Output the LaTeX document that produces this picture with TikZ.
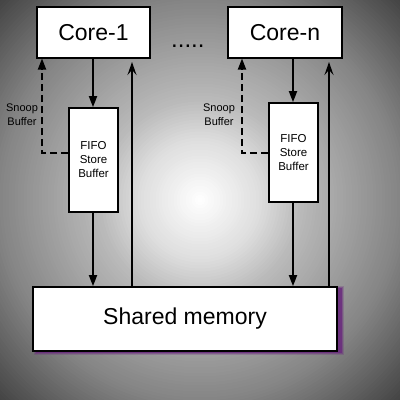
\documentclass[tikz,border=0pt]{standalone}
\usepackage{fontspec}
\setmainfont{Liberation Sans}
\usetikzlibrary{arrows.meta,calc}
\pgfdeclarelayer{bglayer}
\pgfdeclarelayer{shadowlayer}
\pgfsetlayers{bglayer,shadowlayer,main}
\definecolor{shadowpurple}{RGB}{105,40,125}
\tikzset{
  box/.style={draw=black, fill=white, line width=1.7pt, inner sep=0pt},
  corebox/.style={box, minimum width=113pt, minimum height=51pt, font=\fontsize{23}{26}\selectfont},
  fifobox/.style={box, minimum width=49pt, align=center, font=\fontsize{11.5}{14}\selectfont},
  snooplbl/.style={align=center, inner sep=0pt, font=\fontsize{11}{14}\selectfont},
  downarr/.style={line width=1.8pt, -{Triangle[width=8pt,length=11pt]}},
  uparr/.style={line width=1.8pt, -{Stealth[width=9pt,length=13pt,inset=5pt]}},
  snooparr/.style={line width=1.8pt, dash pattern=on 7pt off 4pt, -{Triangle[width=8pt,length=11pt]}}
}
\begin{document}
\begin{tikzpicture}[x=1pt,y=-1pt]
\useasboundingbox (0,0) rectangle (400,400);
% background radial gradient
\begin{pgfonlayer}{bglayer}
\begin{scope}
\clip (0,0) rectangle (400,400);
\fill[black!78] (0,0) rectangle (400,400);
\foreach \r in {292,289,...,0}{
  \pgfmathsetmacro{\s}{\r/100}
  \pgfmathsetmacro{\g}{100*(\s<0.6 ? 1-0.2167*\s : (\s<1 ? 0.87-0.35*(\s-0.6) : (\s<2 ? 0.73-0.21*(\s-1) : 0.52-0.306*(\s-2))))}
  \pgfmathsetmacro{\g}{max(0,min(100,\g))}
  \fill[white!\g!black] (200,200) circle[radius=\r+1.5];
}
\end{scope}
\end{pgfonlayer}

% nodes
\node[corebox] (core1) at (93.5,32.5) {Core-1};
\node[corebox, minimum width=114pt] (coren) at (285,32.5) {Core-n};
\node[anchor=base west, inner sep=0pt, font=\fontsize{24}{26}\selectfont] (dots) at (171,47) {.....};
\node[fifobox, minimum height=104pt] (fifo1) at (93.5,160) {FIFO\\Store\\Buffer};
\node[fifobox, minimum height=99pt] (fifo2) at (293.5,152.5) {FIFO\\Store\\Buffer};
\node[box, minimum width=304pt, minimum height=64pt, font=\fontsize{23}{26}\selectfont] (shared) at (185,319) {Shared memory};
\node[snooplbl] (snoop1) at (22,115) {Snoop\\Buffer};
\node[snooplbl] (snoopn) at (219,115) {Snoop\\Buffer};

% shadow of shared memory
\begin{pgfonlayer}{shadowlayer}
\foreach \e/\o in {2/0.25,1/0.4,0/0.75}{
  \fill[shadowpurple, opacity=\o]
    ($(shared.north west)+(4-\e,1.5-\e)$) rectangle ($(shared.south east)+(4+\e,1.5+\e)$);
}
\end{pgfonlayer}

\coordinate (up1) at (132,62);
\coordinate (upn) at (329,62);

% connectors core-1
\draw[downarr] (core1.south -| 93,0) -- (fifo1.north -| 93,0);
\draw[downarr] (fifo1.south -| 93,0) -- (shared.north -| 93,0);
\draw[uparr] (shared.north -| up1) -- (up1);
\draw[snooparr] (fifo1.west |- 0,153) -- (42,153) -- (42,58.5);

% connectors core-n
\draw[downarr] (coren.south -| 293,0) -- (fifo2.north -| 293,0);
\draw[downarr] (fifo2.south -| 293,0) -- (shared.north -| 293,0);
\draw[uparr] (shared.north -| upn) -- (upn);
\draw[snooparr] (fifo2.west |- 0,153) -- (242,153) -- (242,58.5);
\end{tikzpicture}
\end{document}
